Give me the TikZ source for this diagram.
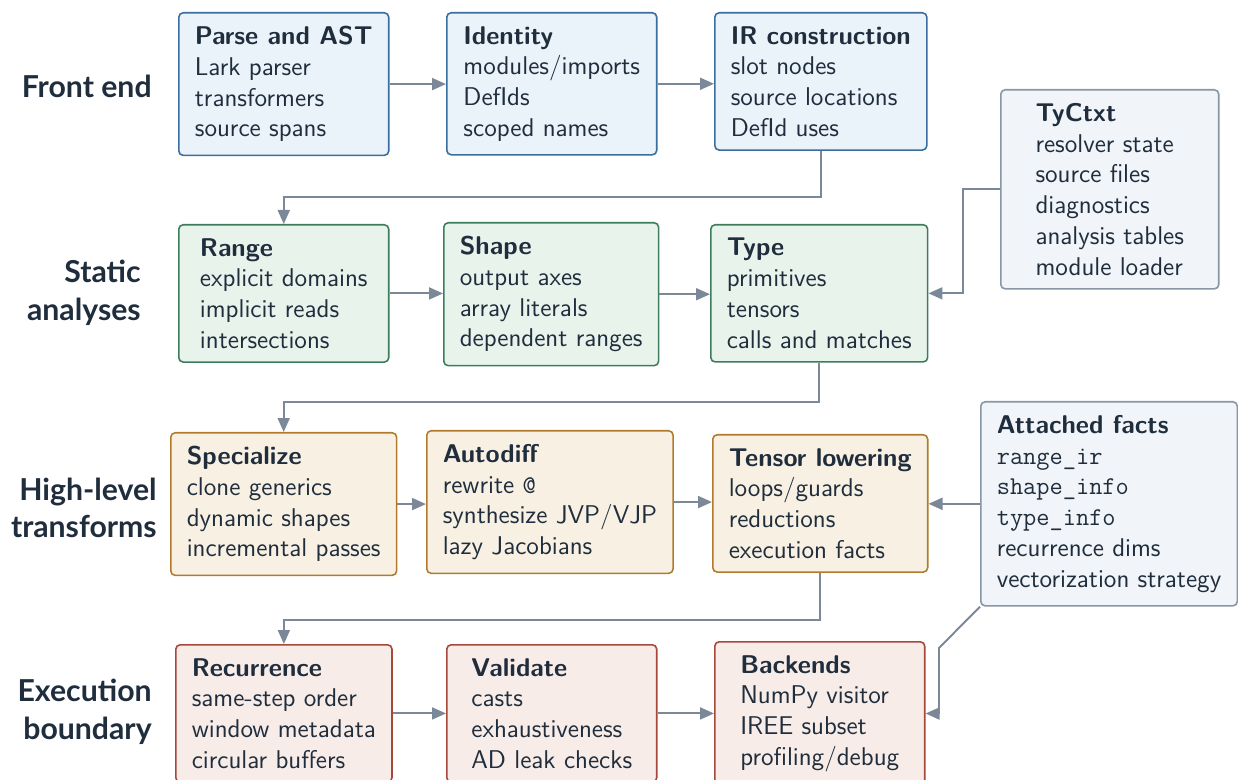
\documentclass[tikz,border=0pt]{standalone}
\usepackage{fontspec}
\usepackage{tikz}
\usetikzlibrary{arrows.meta}

\newfontfamily\rowfont{Lato}
\definecolor{ink}{HTML}{1F2D3D}
\definecolor{flowgray}{HTML}{7B8898}
\definecolor{frontfill}{HTML}{EAF2FA}
\definecolor{frontline}{HTML}{3B6E9F}
\definecolor{statfill}{HTML}{E8F3EC}
\definecolor{statline}{HTML}{3E7D5C}
\definecolor{highfill}{HTML}{F8F1E3}
\definecolor{highline}{HTML}{B27B2B}
\definecolor{execfill}{HTML}{F7ECE8}
\definecolor{execline}{HTML}{A6493B}
\definecolor{ctxfill}{HTML}{F1F4F8}
\definecolor{ctxline}{HTML}{8896A5}

\begin{document}
\begin{tikzpicture}[
		x=0.02cm, y=-0.02cm,
		every node/.style={text=ink, font=\sffamily\fontsize{14.6}{17.5}\selectfont},
		box/.style={rectangle, rounded corners=2.5pt, line width=0.9pt, anchor=north west,
			align=left, inner xsep=0.32cm, inner ysep=0.27cm, minimum width=4.2cm},
		front/.style={box, fill=frontfill, draw=frontline},
		stat/.style={box, fill=statfill, draw=statline},
		high/.style={box, fill=highfill, draw=highline},
		exec/.style={box, fill=execfill, draw=execline},
		ctx/.style={box, fill=ctxfill, draw=ctxline},
		row/.style={font=\rowfont\bfseries\fontsize{17.2}{21.5}\selectfont, align=right, anchor=east, inner sep=0pt},
		flow/.style={draw=flowgray, line width=1.1pt, -{Triangle[length=0.28cm, width=0.24cm]}}
	]
  \useasboundingbox (0,0) rectangle (1238,780);

  % row labels
  \node (lfront) [row] at (152, 86) {Front end};
  \node (lstat) [row] at (141, 293) {Static\\analyses};
  \node (lhigh) [row] at (157, 508) {High-level\\transforms};
  \node (lexec) [row] at (152, 712) {Execution\\boundary};

  % front end
  \node (parse) [front] at (178, 12) {\textbf{Parse and AST}\\Lark parser\\transformers\\source spans};
  \node (ident) [front] at (446, 12) {\textbf{Identity}\\modules/imports\\DefIds\\scoped names};
  \node (irb) [front] at (714, 12) {\textbf{IR construction}\\slot nodes\\source locations\\DefId uses};
  \node (tyctxt) [ctx, minimum width=4.36cm] at (1000, 89) {\textbf{TyCtxt}\\resolver state\\source files\\diagnostics\\analysis tables\\module loader};

  % static analyses
  \node (range) [stat] at (178, 224) {\textbf{Range}\\explicit domains\\implicit reads\\intersections};
  \node (shape) [stat] at (443, 222) {\textbf{Shape}\\output axes\\array literals\\dependent ranges};
  \node (type) [stat] at (710, 224) {\textbf{Type}\\primitives\\tensors\\calls and matches};

  % high-level transforms
  \node (spec) [high] at (170, 432) {\textbf{Specialize}\\clone generics\\dynamic shapes\\incremental passes};
  \node (autod) [high] at (426, 430) {\textbf{Autodiff}\\rewrite \texttt{@}\\synthesize JVP/VJP\\lazy Jacobians};
  \node (tensor) [high] at (712, 434) {\textbf{Tensor lowering}\\loops/guards\\reductions\\execution facts};
  \node (facts) [ctx] at (980, 401) {\textbf{Attached facts}\\\texttt{range\_ir}\\\texttt{shape\_info}\\\texttt{type\_info}\\recurrence dims\\vectorization strategy};

  % execution boundary
  \node (recur) [exec] at (175, 644) {\textbf{Recurrence}\\same-step order\\window metadata\\circular buffers};
  \node (valid) [exec] at (446, 644) {\textbf{Validate}\\casts\\exhaustiveness\\AD leak checks};
  \node (back) [exec] at (714, 641) {\textbf{Backends}\\NumPy visitor\\IREE subset\\profiling/debug};

  \coordinate (bend) at (939, 648);

  \draw [flow] (parse.east) -- (parse.east -| ident.west);
  \draw [flow] (ident.east) -- (ident.east -| irb.west);
  \draw [flow] (irb.south) -- ++(0, 46) -| (range.north);
  \draw [flow] (tyctxt.west) -- ++(-37, 0) |- (type.east);
  \draw [flow] (range.east) -- (range.east -| shape.west);
  \draw [flow] (shape.east) -- (shape.east -| type.west);
  \draw [flow] (type.south) -- ++(0, 39) -| (spec.north);
  \draw [flow] (spec.east) -- (spec.east -| autod.west);
  \draw [flow] (autod.east) -- (autod.east -| tensor.west);
  \draw [flow] (facts.west) -- (facts.west -| tensor.east);
  \draw [flow] (tensor.south) -- ++(0, 47) -| (recur.north);
  \draw [flow] (recur.east) -- (recur.east -| valid.west);
  \draw [flow] (valid.east) -- (valid.east -| back.west);
  \draw [flow] (facts.south west) -- (bend) |- (back.east);
\end{tikzpicture}
\end{document}
